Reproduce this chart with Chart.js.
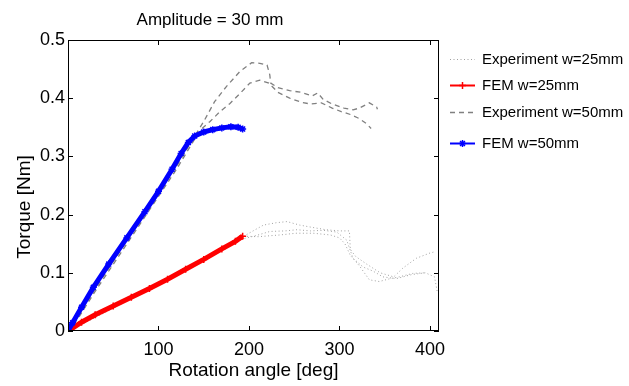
<!DOCTYPE html>
<html><head><meta charset="utf-8">
<script src="https://cdn.jsdelivr.net/npm/chart.js@4.4.0/dist/chart.umd.min.js"></script>
<style>html,body{margin:0;padding:0;background:#fff}canvas{display:block}</style>
</head><body>
<canvas id="c" width="629" height="386"></canvas>
<script>
// ---- text ----
const chartTitle = 'Amplitude = 30 mm';
const xTitle = 'Rotation angle [deg]';
const yTitle = 'Torque [Nm]';
const seriesNames = ['Experiment w=25mm', 'FEM w=25mm', 'Experiment w=50mm', 'FEM w=50mm'];
const xTickValues = [100, 200, 300, 400];
const yTickValues = [0, 0.1, 0.2, 0.3, 0.4, 0.5];

// ---- FEM w=25mm ----
const fem25Angle  = [0, 5, 15, 30, 50, 70, 90, 110, 130, 150, 170, 185, 193];
const fem25Torque = [0, 0.005, 0.015, 0.028, 0.043, 0.058, 0.073, 0.089, 0.106, 0.123, 0.141, 0.154, 0.163];

// ---- FEM w=50mm ----
const fem50Angle  = [0, 5, 15, 28, 45, 65, 85, 100, 115, 125, 133, 140, 150, 160, 170, 180, 188, 193];
const fem50Torque = [0, 0.014, 0.041, 0.075, 0.115, 0.16, 0.205, 0.24, 0.278, 0.305, 0.324, 0.335, 0.342, 0.346, 0.349, 0.351, 0.35, 0.347];

// ---- Experiment w=50mm (two runs) ----
const exp50aAngle  = [0, 10, 30, 60, 90, 120, 135, 150, 162, 175, 190, 203, 212, 220, 223, 224, 232, 245, 258, 270, 276, 282, 292, 305, 315, 322, 333, 341, 342];
const exp50aTorque = [0, 0.022, 0.072, 0.143, 0.213, 0.283, 0.322, 0.36, 0.394, 0.42, 0.446, 0.461, 0.46, 0.457, 0.44, 0.426, 0.418, 0.413, 0.41, 0.404, 0.409, 0.398, 0.39, 0.383, 0.38, 0.383, 0.392, 0.385, 0.381];
const exp50bAngle  = [0, 10, 30, 60, 90, 120, 135, 146, 157, 168, 179, 190, 201, 212, 222, 232, 245, 258, 268, 280, 292, 302, 312, 322, 330, 335];
const exp50bTorque = [0, 0.019, 0.068, 0.138, 0.208, 0.278, 0.317, 0.345, 0.36, 0.377, 0.391, 0.408, 0.426, 0.431, 0.426, 0.41, 0.4, 0.393, 0.39, 0.392, 0.383, 0.377, 0.372, 0.365, 0.356, 0.348];

// ---- Experiment w=25mm (three runs) ----
const exp25aAngle  = [0, 20, 50, 80, 110, 140, 170, 190, 200, 216, 230, 242, 256, 270, 285, 300, 311, 312, 318, 330, 345, 360, 370, 385, 400, 405];
const exp25aTorque = [0, 0.016, 0.04, 0.065, 0.09, 0.116, 0.141, 0.159, 0.168, 0.182, 0.186, 0.188, 0.182, 0.178, 0.174, 0.172, 0.172, 0.14, 0.128, 0.115, 0.1, 0.093, 0.108, 0.125, 0.134, 0.136];
const exp25bAngle  = [0, 20, 50, 80, 110, 140, 170, 190, 208, 223, 240, 253, 268, 282, 297, 308, 315, 326, 337, 348, 363, 380, 395, 405, 408];
const exp25bTorque = [0, 0.015, 0.039, 0.064, 0.089, 0.114, 0.139, 0.157, 0.164, 0.171, 0.172, 0.174, 0.172, 0.173, 0.17, 0.156, 0.125, 0.11, 0.103, 0.093, 0.09, 0.097, 0.1, 0.093, 0.068];
const exp25cAngle  = [194, 210, 234, 252, 271, 290, 300, 306, 312, 322, 333, 344, 356, 366, 381, 395];
const exp25cTorque = [0.163, 0.162, 0.165, 0.168, 0.168, 0.165, 0.16, 0.15, 0.13, 0.112, 0.088, 0.085, 0.09, 0.093, 0.099, 0.1];

const pts = (xs, ys) => xs.map((x, i) => ({ x: x, y: ys[i] }));
const FONT = '"Liberation Sans", Arial, Helvetica, sans-serif';

const style = {
  exp25: { borderColor: '#a0a0a0', borderWidth: 1, borderDash: [1, 2.5] },
  fem25: { borderColor: '#ff0000', borderWidth: 5 },
  exp50: { borderColor: '#808080', borderWidth: 1.3, borderDash: [5, 4] },
  fem50: { borderColor: '#0000ff', borderWidth: 5 }
};

function ds(label, xs, ys, st, extra) {
  return Object.assign({
    label: label, data: pts(xs, ys), showLine: true, fill: false, tension: 0,
    pointRadius: 0, borderColor: st.borderColor, borderWidth: st.borderWidth,
    borderDash: st.borderDash || [], backgroundColor: st.borderColor
  }, extra || {});
}

const datasets = [
  ds(seriesNames[3], fem50Angle, fem50Torque, style.fem50, { order: 0, pointStyle: 'star', pointRadius: 3.5, pointBorderWidth: 1.5, pointBorderColor: '#0000ff' }),
  ds(seriesNames[1], fem25Angle, fem25Torque, style.fem25, { order: 0, pointStyle: 'cross', pointRadius: 3.5, pointBorderWidth: 1.5, pointBorderColor: '#ff0000' }),
  ds(seriesNames[2], exp50aAngle, exp50aTorque, style.exp50, { order: 1 }),
  ds(seriesNames[2], exp50bAngle, exp50bTorque, style.exp50, { order: 1 }),
  ds(seriesNames[0], exp25aAngle, exp25aTorque, style.exp25, { order: 2 }),
  ds(seriesNames[0], exp25bAngle, exp25bTorque, style.exp25, { order: 2 }),
  ds(seriesNames[0], exp25cAngle, exp25cTorque, style.exp25, { order: 2 })
];

// box + inward ticks on all four sides
const framePlugin = {
  id: 'frame',
  afterDatasetsDraw(chart) {
    const { ctx, chartArea: a, scales: { x, y } } = chart;
    const L = 5;
    ctx.save();
    ctx.strokeStyle = '#000'; ctx.lineWidth = 1; ctx.setLineDash([]);
    ctx.strokeRect(a.left + 0.5, a.top + 0.5, a.right - a.left - 1, a.bottom - a.top - 1);
    ctx.beginPath();
    x.ticks.forEach(t => {
      const p = Math.round(x.getPixelForValue(t.value)) + 0.5;
      ctx.moveTo(p, a.bottom); ctx.lineTo(p, a.bottom - L);
      ctx.moveTo(p, a.top); ctx.lineTo(p, a.top + L);
    });
    y.ticks.forEach(t => {
      const p = Math.round(y.getPixelForValue(t.value)) + 0.5;
      ctx.moveTo(a.left, p); ctx.lineTo(a.left + L, p);
      ctx.moveTo(a.right, p); ctx.lineTo(a.right - L, p);
    });
    ctx.stroke();
    ctx.restore();
  }
};

const titlePlugin = {
  id: 'mtitle',
  afterDraw(chart) {
    const ctx = chart.ctx;
    ctx.save();
    ctx.fillStyle = '#000';
    ctx.font = '17px ' + FONT;
    ctx.textAlign = 'center';
    ctx.textBaseline = 'alphabetic';
    ctx.fillText(chartTitle, 210, 25);
    // y-axis title
    ctx.translate(25, 207);
    ctx.rotate(-Math.PI / 2);
    ctx.font = '19px ' + FONT;
    ctx.textBaseline = 'middle';
    ctx.fillText(yTitle, 0, 0);
    ctx.restore();
  }
};

const legendPlugin = {
  id: 'mlegend',
  afterDraw(chart) {
    const ctx = chart.ctx;
    const entries = [
      { text: seriesNames[0], st: style.exp25, marker: null },
      { text: seriesNames[1], st: style.fem25, marker: 'plus' },
      { text: seriesNames[2], st: style.exp50, marker: null },
      { text: seriesNames[3], st: style.fem50, marker: 'star' }
    ];
    const rows = [59, 85, 112, 143];
    const x0 = 450, x1 = 475, tx = 482;
    ctx.save();
    entries.forEach((e, i) => {
      const yy = rows[i] + 0.5;
      ctx.strokeStyle = e.st.borderColor;
      ctx.lineWidth = e.marker ? 2 : e.st.borderWidth;
      ctx.setLineDash(e.st.borderDash || []);
      ctx.beginPath(); ctx.moveTo(x0, yy); ctx.lineTo(x1, yy); ctx.stroke();
      ctx.setLineDash([]);
      const cx = (x0 + x1) / 2, r = 3.5;
      if (e.marker) {
        ctx.lineWidth = 1.5;
        ctx.beginPath();
        ctx.moveTo(cx - r, yy); ctx.lineTo(cx + r, yy);
        ctx.moveTo(cx, yy - r); ctx.lineTo(cx, yy + r);
        if (e.marker === 'star') {
          ctx.moveTo(cx - r * 0.7, yy - r * 0.7); ctx.lineTo(cx + r * 0.7, yy + r * 0.7);
          ctx.moveTo(cx - r * 0.7, yy + r * 0.7); ctx.lineTo(cx + r * 0.7, yy - r * 0.7);
        }
        ctx.stroke();
      }
      ctx.fillStyle = '#000';
      ctx.font = '15px ' + FONT;
      ctx.textAlign = 'left';
      ctx.textBaseline = 'middle';
      ctx.fillText(e.text, tx, yy);
    });
    ctx.restore();
  }
};

new Chart(document.getElementById('c'), {
  type: 'scatter',
  data: { datasets: datasets },
  options: {
    responsive: false,
    animation: false,
    devicePixelRatio: 1,
    layout: { padding: { top: 40, right: 190, left: 0, bottom: 0 } },
    scales: {
      x: {
        type: 'linear', min: 0, max: 410,
        afterBuildTicks: s => { s.ticks = xTickValues.map(v => ({ value: v })); },
        afterFit: s => { s.height = 55; },
        ticks: { color: '#000', font: { family: FONT, size: 18 }, padding: 8, maxRotation: 0, autoSkip: false },
        grid: { display: false, drawTicks: false },
        border: { display: false },
        title: { display: true, text: xTitle, color: '#000', font: { family: FONT, size: 19 }, padding: { top: 0, bottom: 4 } }
      },
      y: {
        type: 'linear', min: 0, max: 0.5,
        afterBuildTicks: s => { s.ticks = yTickValues.map(v => ({ value: v })); },
        afterFit: s => { s.width = 68; },
        ticks: { color: '#000', font: { family: FONT, size: 18 }, padding: 3, autoSkip: false, callback: v => String(+v.toFixed(1)) },
        grid: { display: false, drawTicks: false },
        border: { display: false },
        title: { display: false }
      }
    },
    plugins: { legend: { display: false }, title: { display: false }, tooltip: { enabled: false } }
  },
  plugins: [framePlugin, titlePlugin, legendPlugin]
});
</script>
</body></html>
